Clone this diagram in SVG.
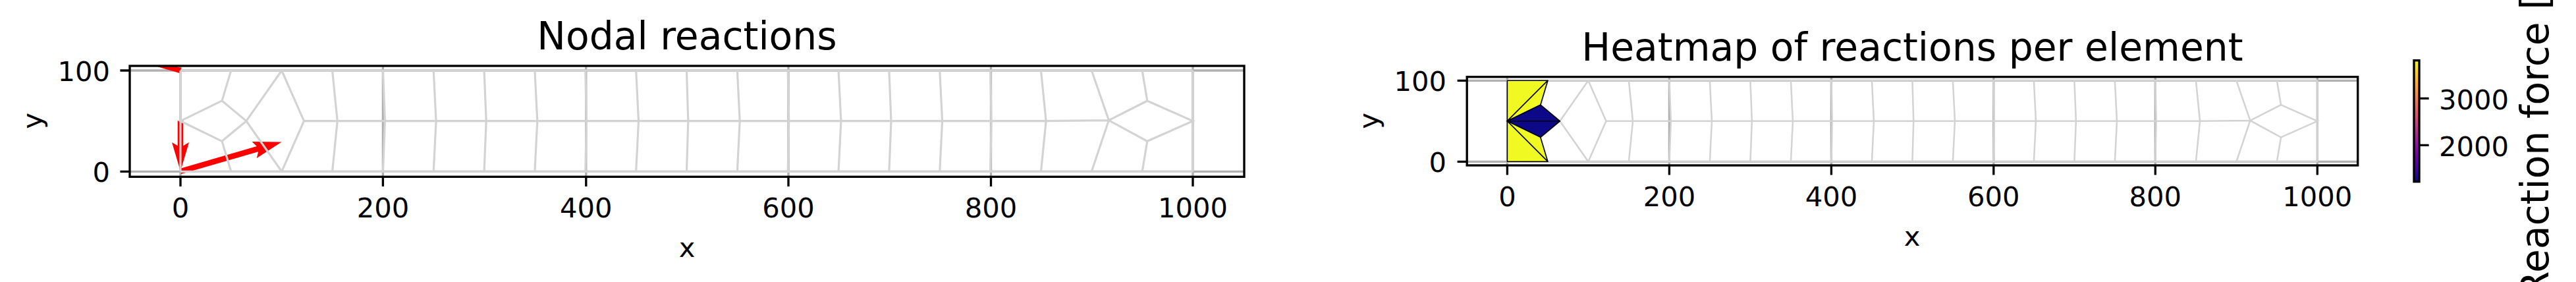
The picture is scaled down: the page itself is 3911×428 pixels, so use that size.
<svg xmlns="http://www.w3.org/2000/svg" width="3911" height="428" viewBox="0 0 3911 428">
<style>
text{font-family:"DejaVu Sans","Liberation Sans",sans-serif;fill:#000;font-size:41.67px}
.title{font-size:58.33px;text-anchor:middle}
.xt{text-anchor:middle}
.yt{text-anchor:end}
.cbl{font-size:58.33px}
.grid{stroke:#b0b0b0;stroke-width:3.33;fill:none}
.mesh{fill:none;stroke:#d3d3d3;stroke-width:2.08;vector-effect:non-scaling-stroke}
.spine{fill:none;stroke:#000;stroke-width:3.33}
.tick{stroke:#000;stroke-width:3.33;fill:none}
.arrow{fill:#f00}
.el{stroke:#000;stroke-width:1.6;stroke-linejoin:round;vector-effect:non-scaling-stroke}
.hi{fill:#f0f921}
.lo{fill:#0d0887}
</style>
<defs>
<path id="meshlines" d="M0 -100H1000M0 0H1000M0 0V-100M1000 0V-100M122 -50H855L917 -50.7M50 -100L41 -70L0 -50L41 -30L50 0M41 -70L65 -50L41 -30M100 -100L65 -50L100 0M100 -100L122 -50L100 0M150 -100L155 -50L150 0M200 -100L202 -50L200 0M250 -100L252.500 -50L250 0M300 -100L302 -50L300 0M350 -100L352.500 -50L350 0M400 -100L401 -50L400 0M450 -100L452.500 -50L450 0M500 -100L501.500 -50L500 0M550 -100L552.500 -50L550 0M600 -100L601 -50L600 0M650 -100L652.500 -50L650 0M700 -100L702 -50L700 0M750 -100L752.500 -50L750 0M800 -100L801 -50L800 0M850 -100L855 -50L850 0M900 -100L917 -50.700L900 0M950 -100L955 -70L917 -50.700L955 -30L950 0M955 -70L1000 -50L955 -30"/>
<clipPath id="clip1"><rect x="197" y="100" width="1692" height="168.300"/></clipPath>
<clipPath id="clip2"><rect x="2227.200" y="116.700" width="1352.500" height="134.300"/></clipPath>
<linearGradient id="plasma" x1="0" y1="1" x2="0" y2="0">
<stop offset="0" stop-color="#0d0887"/><stop offset="0.111" stop-color="#46039f"/><stop offset="0.222" stop-color="#7201a8"/><stop offset="0.333" stop-color="#9c179e"/><stop offset="0.444" stop-color="#bd3786"/><stop offset="0.556" stop-color="#d8576b"/><stop offset="0.667" stop-color="#ed7953"/><stop offset="0.778" stop-color="#fb9f3a"/><stop offset="0.889" stop-color="#fdca26"/><stop offset="1" stop-color="#f0f921"/>
</linearGradient>
</defs>

<g id="panel-nodal">
<g id="grid1" class="grid" clip-path="url(#clip1)">
<path d="M274 100V268.300M581.400 100V268.300M889.800 100V268.300M1197 100V268.300M1504.500 100V268.300M1811 100V268.300M197 107H1889M197 260.300H1889"/>
</g>
<g id="reaction-arrows" clip-path="url(#clip1)">
<polygon class="arrow" points="269.700,183.300 278.300,183.300 278.300,221.300 287,216 274,260 261,216 269.700,221.300"/>
<polygon class="arrow" points="272.800,255.900 275.200,264.100 392.100,230.200 389.800,240 427.500,215.500 382.600,215 389.800,221.900"/>
<polygon class="arrow" points="272.800,111.100 275.200,102.900 100,52 100,60"/>
</g>
<use href="#meshlines" class="mesh" transform="translate(274 260.300) scale(1.537 1.533)"/>
<rect class="spine" x="197" y="100" width="1692" height="168.300"/>
<path class="tick" d="M274 268.300v14.600M581.400 268.300v14.600M889.800 268.300v14.600M1197 268.300v14.600M1504.500 268.300v14.600M1811 268.300v14.600M197 107h-14.600M197 260.300h-14.600"/>
<text class="xt" x="274" y="330">0</text>
<text class="xt" x="581.400" y="330">200</text>
<text class="xt" x="889.800" y="330">400</text>
<text class="xt" x="1197" y="330">600</text>
<text class="xt" x="1504.500" y="330">800</text>
<text class="xt" x="1811" y="330">1000</text>
<text class="yt" x="167" y="123">100</text>
<text class="yt" x="167" y="276">0</text>
<text class="xt" x="1043" y="390">x</text>
<text class="xt" transform="translate(62.800 183.500) rotate(-90)">y</text>
<text class="title" x="1043" y="75">Nodal reactions</text>
</g>

<g id="panel-heatmap">
<g id="grid2" class="grid" clip-path="url(#clip2)">
<path d="M2288.400 116.700V251M2534.400 116.700V251M2780.400 116.700V251M3026.800 116.700V251M3272.300 116.700V251M3518.300 116.700V251M2227.200 122.300H3579.700M2227.200 245.300H3579.700"/>
</g>
<use href="#meshlines" class="mesh" transform="translate(2288.400 245.300) scale(1.23 1.23)"/>
<g id="elements" transform="translate(2288.400 245.300) scale(1.23 1.23)">
<polygon class="el hi" points="0,-100 50,-100 0,-50"/>
<polygon class="el hi" points="50,-100 41,-70 0,-50"/>
<polygon class="el lo" points="0,-50 41,-70 65,-50"/>
<polygon class="el lo" points="0,-50 65,-50 41,-30"/>
<polygon class="el hi" points="0,-50 41,-30 50,0"/>
<polygon class="el hi" points="0,-50 50,0 0,0"/>
</g>
<rect class="spine" x="2227.200" y="116.700" width="1352.500" height="134.300"/>
<path class="tick" d="M2288.400 251v14.600M2534.400 251v14.600M2780.400 251v14.600M3026.800 251v14.600M3272.300 251v14.600M3518.300 251v14.600M2227.200 122.300h-14.600M2227.200 245.300h-14.600"/>
<text class="xt" x="2288.400" y="313">0</text>
<text class="xt" x="2534.400" y="313">200</text>
<text class="xt" x="2780.400" y="313">400</text>
<text class="xt" x="3026.800" y="313">600</text>
<text class="xt" x="3272.300" y="313">800</text>
<text class="xt" x="3518.300" y="313">1000</text>
<text class="yt" x="2196" y="138">100</text>
<text class="yt" x="2196" y="261">0</text>
<text class="xt" x="2903" y="373">x</text>
<text class="xt" transform="translate(2091.500 183.500) rotate(-90)">y</text>
<text class="title" x="2903.500" y="91.700">Heatmap of reactions per element</text>
</g>

<g id="colorbar">
<rect x="3665" y="91.700" width="8" height="184" fill="url(#plasma)"/>
<rect class="spine" x="3665" y="91.700" width="8" height="184"/>
<path class="tick" d="M3673 149.300h14.600M3673 220.300h14.600"/>
<text x="3703" y="165.500">3000</text>
<text x="3703" y="236.500">2000</text>
<text class="cbl" transform="translate(3869 452) rotate(-90)">Reaction force [</text>
</g>
</svg>
